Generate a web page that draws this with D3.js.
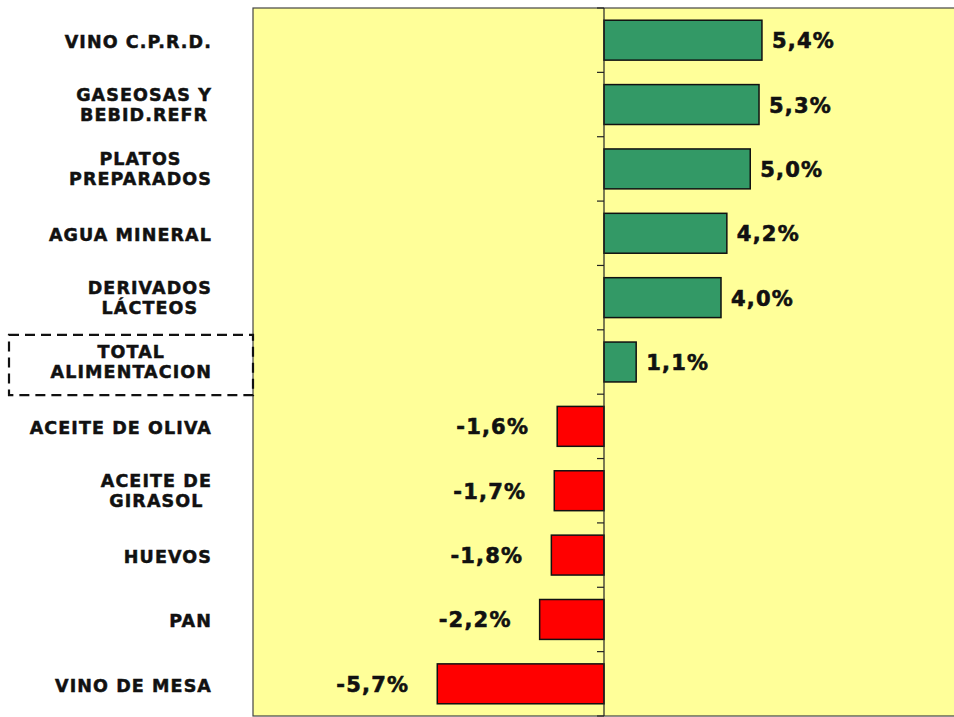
<!DOCTYPE html>
<html>
<head>
<meta charset="utf-8">
<script src="https://cdn.jsdelivr.net/npm/d3@7"></script>
<style>
  body { margin: 0; background: #fff; }
  svg { display: block; font-family: Verdana, "DejaVu Sans", sans-serif; font-weight: bold; }
</style>
</head>
<body>
<div id="chart"></div>
<script>
// categories, one entry per row (lines of the wrapped label)
const categories = [
  ["VINO C.P.R.D."],
  ["GASEOSAS Y", "BEBID.REFR"],
  ["PLATOS", "PREPARADOS"],
  ["AGUA MINERAL"],
  ["DERIVADOS", "LÁCTEOS"],
  ["TOTAL", "ALIMENTACION"],
  ["ACEITE DE OLIVA"],
  ["ACEITE DE", "GIRASOL"],
  ["HUEVOS"],
  ["PAN"],
  ["VINO DE MESA"]
];
// % change
const values = [5.4, 5.3, 5.0, 4.2, 4.0, 1.1, -1.6, -1.7, -1.8, -2.2, -5.7];
const highlighted = "TOTAL";

(() => {
  const width = 954, height = 717;
  const plot = { left: 253, right: 955, top: 8, bottom: 716 };

  const svg = d3.select("#chart").append("svg")
    .attr("width", width)
    .attr("height", height);

  const x = d3.scaleLinear()
    .domain([-12, 12])
    .range([plot.left, plot.right]);

  const y = d3.scaleBand()
    .domain(d3.range(categories.length))
    .range([plot.top, plot.bottom])
    .paddingInner(0.38)
    .paddingOuter(0.19);

  const step = y.step();

  // plot area
  svg.append("rect")
    .attr("x", plot.left)
    .attr("y", plot.top)
    .attr("width", width + 10 - plot.left)
    .attr("height", plot.bottom - plot.top)
    .attr("fill", "#ffff99")
    .attr("stroke", "#444")
    .attr("stroke-width", 1.2);

  // bars
  svg.append("g")
    .selectAll("rect")
    .data(values)
    .join("rect")
    .attr("x", d => x(Math.min(0, d)))
    .attr("y", (d, i) => y(i))
    .attr("width", d => Math.abs(x(d) - x(0)))
    .attr("height", y.bandwidth())
    .attr("fill", d => d >= 0 ? "#339966" : "#ff0000")
    .attr("stroke", "#111")
    .attr("stroke-width", 1.5);

  // zero axis with category boundary ticks
  const x0 = x(0);
  svg.append("line")
    .attr("x1", x0).attr("x2", x0)
    .attr("y1", plot.top).attr("y2", plot.bottom)
    .attr("stroke", "#222")
    .attr("stroke-width", 1.2);

  svg.append("g")
    .selectAll("line")
    .data(d3.range(categories.length + 1))
    .join("line")
    .attr("x1", x0 - 7).attr("x2", x0)
    .attr("y1", i => plot.top + i * step)
    .attr("y2", i => plot.top + i * step)
    .attr("stroke", "#222")
    .attr("stroke-width", 1.2);

  // value labels
  const fmt = v => d3.format(".1f")(v).replace(".", ",").replace("−", "-") + "%";
  svg.append("g")
    .selectAll("text")
    .data(values)
    .join("text")
    .attr("x", d => d >= 0 ? x(d) + 10 : x(d) - 28)
    .attr("y", (d, i) => y(i) + y.bandwidth() / 2)
    .attr("dy", "0.38em")
    .attr("text-anchor", d => d >= 0 ? "start" : "end")
    .attr("font-size", "21px")
    .attr("letter-spacing", "1.2px")
    .attr("fill", "#111")
    .attr("stroke", "#111")
    .attr("stroke-width", 0.6)
    .text(d => fmt(d));

  // category labels
  const labelRight = 212, lineH = 20;
  const labels = svg.append("g")
    .selectAll("g")
    .data(categories)
    .join("g")
    .attr("transform", (d, i) => `translate(0,${y(i) + y.bandwidth() / 2})`);

  labels.each(function(lines) {
    const g = d3.select(this);
    const t = g.append("text")
      .attr("font-size", "17.5px")
      .attr("letter-spacing", "1.1px")
      .attr("fill", "#111")
      .attr("stroke", "#111")
      .attr("stroke-width", 0.5)
      .attr("text-anchor", "middle");
    lines.forEach((l, j) => {
      t.append("tspan")
        .attr("x", 0)
        .attr("y", (j - (lines.length - 1) / 2) * lineH + (lines.length > 1 ? 6 : 8))
        .text(l);
    });
    const bb = t.node().getBBox();
    t.attr("transform", `translate(${labelRight - bb.width / 2},0)`);

    if (lines[0] === highlighted) {
      g.append("rect")
        .attr("x", 9)
        .attr("y", -step / 2 + 5)
        .attr("width", plot.left - 9)
        .attr("height", step - 4)
        .attr("fill", "none")
        .attr("stroke", "#111")
        .attr("stroke-width", 2.2)
        .attr("stroke-dasharray", "10,6");
    }
  });
})();
</script>
</body>
</html>
